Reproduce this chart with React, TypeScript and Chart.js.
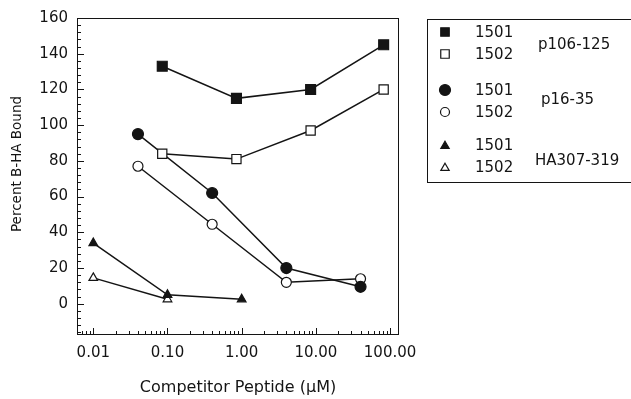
import React, { useEffect, useRef } from "react";
import { Chart, registerables } from "chart.js";

Chart.register(...registerables);

// ---- data ----
const p106X = [0.085, 0.85, 8.5, 82];
const p106_1501 = [133, 115, 120, 145];
const p106_1502 = [84, 81, 97, 120];
const p16X = [0.04, 0.4, 4, 40];
const p16_1501 = [95, 62, 20, 9.5];
const p16_1502 = [77, 44.5, 12, 14];
const haX = [0.01, 0.1, 1];
const ha_1501 = [34, 5, 2.5];
const ha_1502X = [0.01, 0.1];
const ha_1502 = [14.5, 2.5];

const yTicks = [0, 20, 40, 60, 80, 100, 120, 140, 160];
const xTicks = [0.01, 0.1, 1, 10, 100];
const xTickLabels = ["0.01", "0.10", "1.00", "10.00", "100.00"];
const legendGroups = ["p106-125", "p16-35", "HA307-319"];
const legendAlleles = ["1501", "1502"];
const xTitle = "Competitor Peptide (\u00b5M)";
const yTitle = "Percent B-HA Bound";

const INK = "#141414";
const FONT = "'DejaVu Sans', sans-serif";

const pts = (xs: number[], ys: number[]) => ys.map((v, i) => ({ x: xs[i], y: v }));

function drawMarker(ctx: CanvasRenderingContext2D, style: string, filled: boolean, cx: number, cy: number, r: number) {
  ctx.beginPath();
  if (style === "rect") {
    const s = Math.SQRT1_2 * r;
    ctx.rect(cx - s, cy - s, 2 * s, 2 * s);
  } else if (style === "circle") {
    ctx.arc(cx, cy, r, 0, Math.PI * 2);
  } else {
    ctx.moveTo(cx, cy - r);
    ctx.lineTo(cx + Math.sin(Math.PI * 2 / 3) * r, cy + r / 2);
    ctx.lineTo(cx - Math.sin(Math.PI * 2 / 3) * r, cy + r / 2);
    ctx.closePath();
  }
  ctx.fillStyle = filled ? INK : "#fff";
  ctx.fill();
  ctx.strokeStyle = INK;
  ctx.lineWidth = 1.2;
  ctx.stroke();
}

const framePlugin = {
  id: "frame",
  beforeDatasetsDraw(chart: any) {
    const { ctx, chartArea } = chart;
    const { left, right, top, bottom } = chartArea;
    const x = chart.scales.x;
    const y = chart.scales.y;
    ctx.save();
    ctx.strokeStyle = INK;
    ctx.lineWidth = 1;
    ctx.strokeRect(Math.round(left) + 0.5, Math.round(top) + 0.5, Math.round(right - left) - 1, Math.round(bottom - top) - 1);
    ctx.beginPath();
    for (let v = -16; v <= 160; v += 4) {
      const py = Math.round(y.getPixelForValue(v)) + 0.5;
      if (py < top || py > bottom) continue;
      const len = v % 20 === 0 ? 7 : 4;
      ctx.moveTo(left, py);
      ctx.lineTo(left + len, py);
    }
    for (let d = -3; d <= 2; d++) {
      for (let k = 1; k <= 9; k++) {
        const v = k * Math.pow(10, d);
        if (v < x.min || v > x.max) continue;
        const px = Math.round(x.getPixelForValue(v)) + 0.5;
        const len = k === 1 ? 7 : 4;
        ctx.moveTo(px, bottom);
        ctx.lineTo(px, bottom - len);
      }
    }
    ctx.stroke();
    ctx.restore();
  },
  afterDraw(chart: any) {
    const { ctx, chartArea } = chart;
    ctx.save();
    ctx.fillStyle = INK;
    // axis titles
    ctx.font = `16px ${FONT}`;
    ctx.textAlign = "center";
    ctx.textBaseline = "middle";
    ctx.fillText(xTitle, (chartArea.left + chartArea.right) / 2, 388);
    ctx.save();
    ctx.translate(17, 164);
    ctx.rotate(-Math.PI / 2);
    ctx.font = `13.5px ${FONT}`;
    ctx.fillText(yTitle, 0, 0);
    ctx.restore();

    // legend box
    ctx.strokeStyle = INK;
    ctx.lineWidth = 1;
    ctx.strokeRect(427.5, 19.5, 220, 163);
    const styles = ["rect", "circle", "triangle"];
    const rowY = [[33, 55], [91, 113], [146, 168]];
    const groupY = [45, 100, 161];
    const groupX = [538, 541, 535];
    const markR = [[6, 6], [5.5, 4.5], [4.8, 4.8]];
    ctx.font = `15px ${FONT}`;
    ctx.textBaseline = "middle";
    legendGroups.forEach((g, gi) => {
      legendAlleles.forEach((a, ai) => {
        const yy = rowY[gi][ai];
        drawMarker(ctx, styles[gi], ai === 0, 445, yy - 1 + (styles[gi] === "triangle" ? 1 : 0), markR[gi][ai]);
        ctx.fillStyle = INK;
        ctx.textAlign = "left";
        ctx.fillText(a, 475, yy);
      });
      ctx.textAlign = "left";
      ctx.fillText(g, groupX[gi], groupY[gi]);
    });
    ctx.restore();
  },
};

export default function App() {
  const ref = useRef<HTMLCanvasElement | null>(null);
  useEffect(() => {
    document.body.style.margin = "0";
    const canvas = ref.current;
    if (!canvas) return;
    const line = (data: any[], style: string, filled: boolean, r: number) => ({
      data,
      pointStyle: style,
      pointRadius: r,
      pointHoverRadius: r,
      pointBackgroundColor: filled ? INK : "#fff",
      pointBorderColor: INK,
      pointBorderWidth: 1.2,
      borderColor: INK,
      borderWidth: 1.5,
      showLine: true,
      tension: 0,
      fill: false,
    });
    const chart = new Chart(canvas, {
      type: "scatter",
      data: {
        datasets: [
          line(pts(p106X, p106_1501), "rect", true, 7),
          line(pts(p106X, p106_1502), "rect", false, 6.5),
          line(pts(p16X, p16_1501), "circle", true, 5.5),
          line(pts(p16X, p16_1502), "circle", false, 5),
          line(pts(haX, ha_1501), "triangle", true, 5),
          line(pts(ha_1502X, ha_1502), "triangle", false, 5),
        ] as any,
      },
      options: {
        animation: false,
        responsive: false,
        layout: { padding: { top: 18, right: 232, left: 0, bottom: 0 } },
        plugins: { legend: { display: false }, tooltip: { enabled: false } },
        scales: {
          x: {
            type: "logarithmic",
            min: 0.00603,
            max: 132,
            grid: { display: false, drawTicks: false },
            border: { display: false },
            afterBuildTicks: (s: any) => {
              s.ticks = xTicks.map((v) => ({ value: v }));
            },
            afterFit: (s: any) => {
              s.height = 64;
            },
            ticks: {
              autoSkip: false,
              maxRotation: 0,
              padding: 9,
              color: INK,
              font: { family: FONT, size: 15 },
              callback: (v: any) => {
                const i = xTicks.findIndex((t) => Math.abs(t - Number(v)) < 1e-9);
                return i >= 0 ? xTickLabels[i] : "";
              },
            },
          },
          y: {
            type: "linear",
            min: -17.5,
            max: 160,
            grid: { display: false, drawTicks: false },
            border: { display: false },
            afterBuildTicks: (s: any) => {
              s.ticks = yTicks.map((v) => ({ value: v }));
            },
            afterFit: (s: any) => {
              s.width = 77;
            },
            ticks: {
              autoSkip: false,
              padding: 9,
              color: INK,
              font: { family: FONT, size: 15 },
              callback: (v: any) => String(v),
            },
          },
        },
      },
      plugins: [framePlugin],
    });
    return () => chart.destroy();
  }, []);
  return (
    <div style={{ width: 631, height: 399, background: "#fff" }}>
      <canvas ref={ref} width={631} height={399} style={{ display: "block" }} />
    </div>
  );
}
